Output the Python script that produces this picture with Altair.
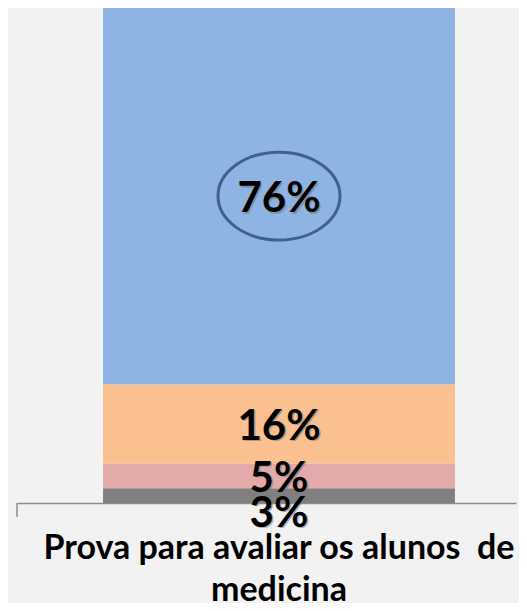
import altair as alt
import pandas as pd

categories = ["Prova para avaliar os alunos\u00a0 de|medicina"]
segments = ["3%", "5%", "16%", "76%"]
values = [3, 5, 16, 76]
colors = ["#808080", "#e2aaa9", "#fac090", "#8eb4e3"]

df = pd.DataFrame({
    "cat": categories * len(values),
    "seg": segments,
    "value": values,
    "rank": list(range(len(values))),
})
df["top"] = df["value"].cumsum()
df["mid"] = df["top"] - df["value"] / 2

axis_x = alt.Axis(
    domain=True, domainColor="#8c8c8c", domainWidth=1.5, ticks=False, grid=False,
    labelExpr="split(datum.label, '|')", labelFont="Lato", labelFontWeight="bold",
    labelFontSize=34, labelColor="black", labelPadding=28, labelLineHeight=42,
    labelAngle=0, labelLimit=700, title=None,
)
xenc = alt.X("cat:N", title=None,
             scale=alt.Scale(paddingInner=0, paddingOuter=0.209, align=0.585),
             axis=axis_x)
yscale = alt.Scale(domain=[0, 100], nice=False, zero=True)

base = alt.Chart(df)

bars = base.mark_bar().encode(
    x=xenc,
    y=alt.Y("value:Q", stack="zero", scale=yscale, axis=None),
    color=alt.Color("seg:N", scale=alt.Scale(domain=segments, range=colors), legend=None),
    order=alt.Order("rank:Q"),
)

def labels(filter_expr, dy):
    src = base.transform_filter(filter_expr)
    shadow = src.mark_text(font="Lato", fontWeight="bold", fontSize=42, color="#777777",
                           opacity=0.55, baseline="middle", dx=1.5, dy=dy + 1.5).encode(
        x=xenc, y=alt.Y("mid:Q", scale=yscale, axis=None), text="seg:N")
    txt = src.mark_text(font="Lato", fontWeight="bold", fontSize=42, color="black",
                        baseline="middle", dy=dy).encode(
        x=xenc, y=alt.Y("mid:Q", scale=yscale, axis=None), text="seg:N")
    return [shadow, txt]

main_labels = labels("datum.seg != '3%'", 3)
low_labels = labels("datum.seg == '3%'", 18)

ellipse = base.transform_filter("datum.seg == '76%'").mark_point(
    shape="M-1,0A1,0.72,0,1,1,1,0A1,0.72,0,1,1,-1,0Z",
    filled=False, stroke="#41618c", strokeWidth=3, opacity=1, size=14884,
).encode(x=xenc, y=alt.Y("mid:Q", scale=yscale, axis=None))

tick = base.transform_filter("datum.rank == 0").mark_rule(
    color="#8c8c8c", strokeWidth=1.5
).encode(x=alt.value(0), y=alt.value(495), y2=alt.value(509))

chart = alt.layer(bars, *main_labels, *low_labels, ellipse, tick).properties(
    width=499, height=495,
    padding={"left": 9, "top": 0, "right": 3, "bottom": 100},
    autosize="none",
    background="#f2f2f2",
).configure_view(stroke=None)

chart.save("out.html", embed_options={"renderer": "svg", "actions": False})
